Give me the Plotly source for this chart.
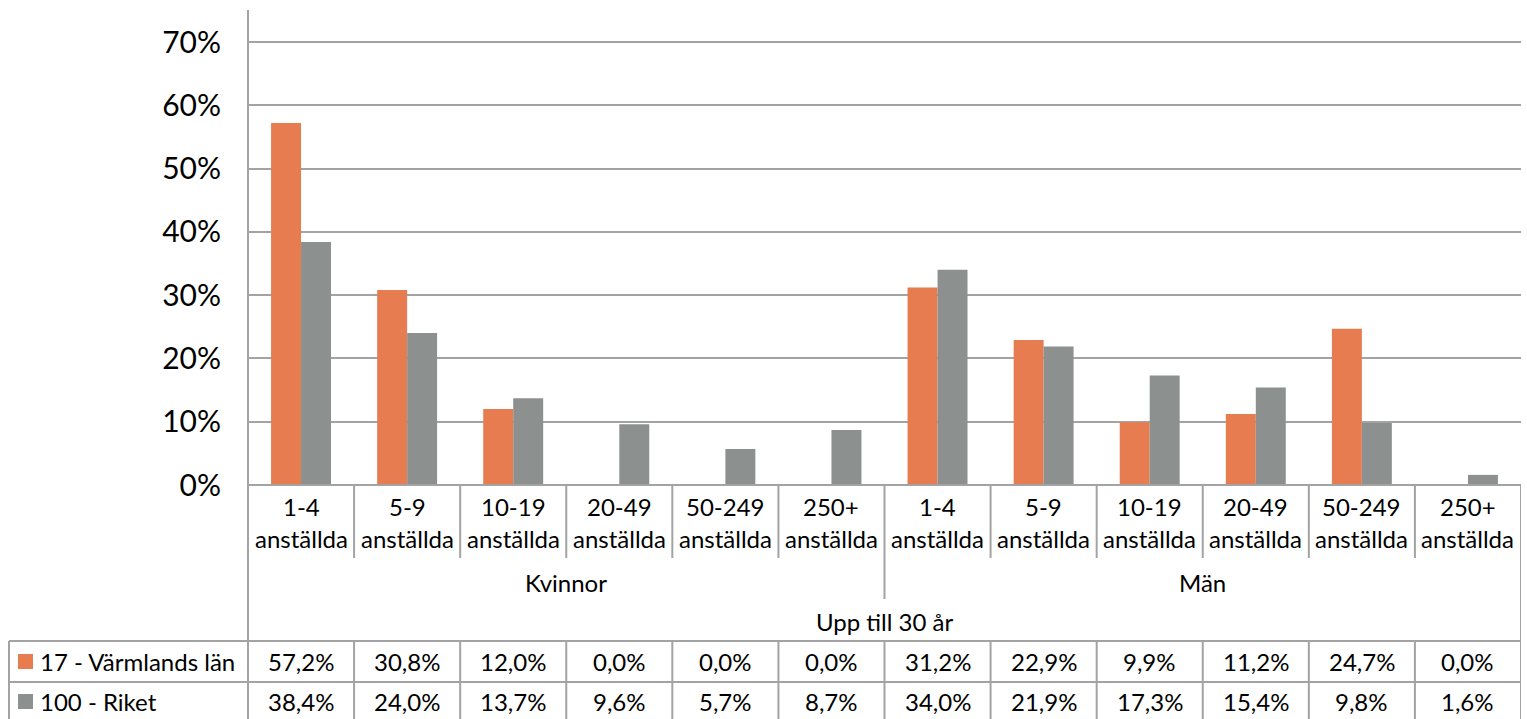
import plotly.graph_objects as go

# Chart data
size_classes = ["1-4", "5-9", "10-19", "20-49", "50-249", "250+"]
genders = ["Kvinnor", "Män"]
age_group = "Upp till 30 år"
unit_word = "anställda"
series_names = ["17 - Värmlands län", "100 - Riket"]
varmland = [57.2, 30.8, 12.0, 0.0, 0.0, 0.0, 31.2, 22.9, 9.9, 11.2, 24.7, 0.0]
riket = [38.4, 24.0, 13.7, 9.6, 5.7, 8.7, 34.0, 21.9, 17.3, 15.4, 9.8, 1.6]
y_ticks = [0, 10, 20, 30, 40, 50, 60, 70]

colors = ["#E67C4F", "#8C918F"]
line_color = "#A3A3A3"
font_family = "Lato, 'Open Sans', sans-serif"

W, H = 1527, 719
# plot area in pixels
PL, PR, PT, PB = 248, 1521, 10, 485
Y70 = 42  # pixel row of the 70 % gridline


def px(x):
    return x / W


def py(y):
    return 1 - y / H


n = len(size_classes) * len(genders)
xs = list(range(n))
cat_labels = size_classes * len(genders)

fig = go.Figure()
for name, vals, col in zip(series_names, [varmland, riket], colors):
    fig.add_trace(go.Bar(
        x=xs, y=[v / 100 for v in vals], name=name,
        marker=dict(color=col, line=dict(width=0)),
        showlegend=False,
    ))

y_max = (PB - PT) / ((PB - Y70) / 0.70)

fig.update_layout(
    width=W, height=H,
    margin=dict(l=0, r=0, t=0, b=0, pad=0),
    paper_bgcolor="white", plot_bgcolor="white",
    barmode="group", bargap=0.435, bargroupgap=0,
    font=dict(family=font_family, color="#000000"),
    xaxis=dict(
        domain=[px(PL), px(PR)], range=[-0.5, n - 0.5],
        showticklabels=False, ticks="", showgrid=False, zeroline=False,
        showline=False, fixedrange=True, automargin=False,
    ),
    yaxis=dict(
        domain=[py(PB), py(PT)], range=[0, y_max],
        tickvals=[t / 100 for t in y_ticks],
        ticktext=[f"{t}%" for t in y_ticks],
        tickfont=dict(size=30, family=font_family, color="#000000"),
        ticks="", ticklabelstandoff=26,
        showgrid=True, gridcolor=line_color, gridwidth=2,
        zeroline=False, showline=False, fixedrange=True, automargin=False,
    ),
)

shapes = []


def seg(x0, x1, y0, y1, xref="paper"):
    if xref == "paper":
        x0, x1 = px(x0), px(x1)
    shapes.append(dict(type="line", xref=xref, yref="paper",
                       x0=x0, x1=x1, y0=py(y0), y1=py(y1),
                       line=dict(color=line_color, width=2), layer="above"))


# vertical value axis line, running down through the table
seg(PL, PL, PT, H + 2)
# category axis baseline
seg(PL, PR, PB, PB)
# category separators (longer between the two gender groups)
for i in range(1, n):
    bottom = 599 if i % len(size_classes) == 0 else 558
    seg(i - 0.5, i - 0.5, PB, bottom, xref="x")
# right border of the category/table block
seg(n - 0.5, n - 0.5, PB, H + 2, xref="x")

# data table grid
TT, TM = 641, 682
seg(9, PR, TT, TT)
seg(9, PR, TM, TM)
seg(9, 9, TT, H + 2)
for i in range(1, n):
    seg(i - 0.5, i - 0.5, TT, H + 2, xref="x")

row_y = [(TT + TM) / 2, (TM + H) / 2 + 1]

# legend keys inside the table
for k, col in enumerate(colors):
    yc = row_y[k]
    shapes.append(dict(type="rect", xref="paper", yref="paper",
                       x0=px(18), x1=px(33), y0=py(yc - 7.5), y1=py(yc + 7.5),
                       fillcolor=col, line=dict(width=0)))

fig.update_layout(shapes=shapes)

ann = []
FS = 24


def text(x, y, s, xref="x", size=FS, xanchor="center"):
    ann.append(dict(x=x, y=py(y), xref=xref, yref="paper", text=s,
                    showarrow=False, xanchor=xanchor, yanchor="middle",
                    font=dict(size=size, family=font_family, color="#000000")))


for i, lab in enumerate(cat_labels):
    text(i, 506, lab)
    text(i, 538, unit_word)

g = len(size_classes)
for j, gname in enumerate(genders):
    text(j * g + (g - 1) / 2, 582, gname)
text(n / 2 - 0.5, 621, age_group)

for r, vals in enumerate([varmland, riket]):
    for i, v in enumerate(vals):
        text(i, row_y[r], f"{v:.1f}%".replace(".", ","))
    text(px(38), row_y[r], series_names[r], xref="paper", xanchor="left")

fig.update_layout(annotations=ann)

fig.write_html("out.html")
